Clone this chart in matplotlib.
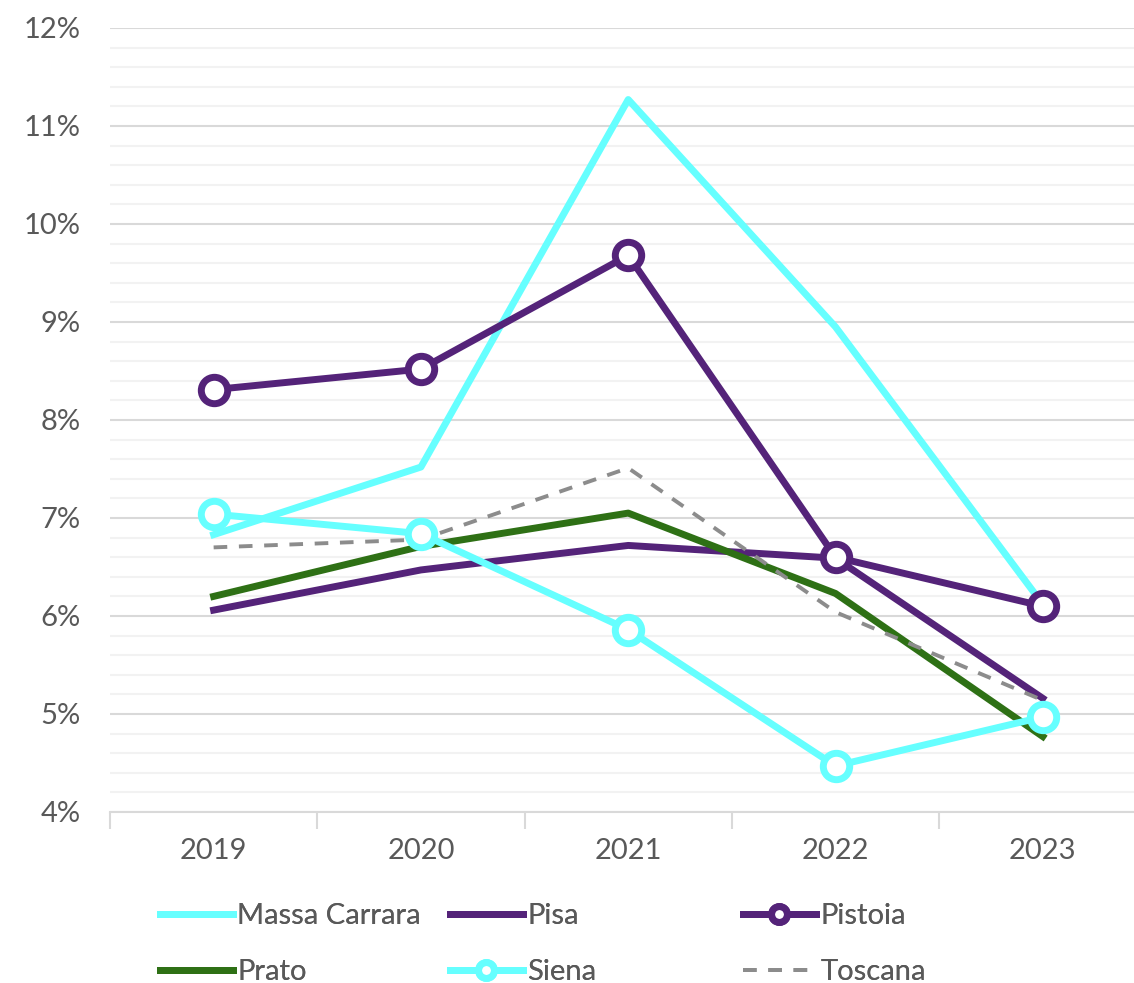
import matplotlib.pyplot as plt
from matplotlib.ticker import MultipleLocator, FuncFormatter

plt.rcParams['font.family'] = ['Lato', 'DejaVu Sans']

years = ['2019', '2020', '2021', '2022', '2023']
massa_carrara = [6.83, 7.52, 11.27, 8.95, 6.12]
pisa = [6.06, 6.47, 6.72, 6.59, 5.16]
pistoia = [8.31, 8.52, 9.68, 6.60, 6.10]
prato = [6.20, 6.71, 7.05, 6.23, 4.77]
siena = [7.04, 6.84, 5.86, 4.47, 4.97]
toscana = [6.70, 6.78, 7.51, 6.04, 5.14]

cyan = '#66FFFF'
purple = '#542379'
green = '#2E7015'
grey_text = '#595959'
fs = 21

fig = plt.figure(figsize=(11.34, 9.83), dpi=100)
ax = fig.add_axes([110 / 1134, 1 - 812 / 983, 1 - 110 / 1134, (812 - 28) / 983])

x = range(len(years))
lw = 5
l_mc, = ax.plot(x, massa_carrara, color=cyan, lw=lw, label='Massa Carrara', zorder=3)
l_pisa, = ax.plot(x, pisa, color=purple, lw=lw, label='Pisa', zorder=3)
l_pist, = ax.plot(x, pistoia, color=purple, lw=lw, marker='o', ms=19, mfc='white',
                  mec=purple, mew=5, label='Pistoia', zorder=4)
l_prato, = ax.plot(x, prato, color=green, lw=lw, label='Prato', zorder=3)
l_siena, = ax.plot(x, siena, color=cyan, lw=lw, marker='o', ms=19, mfc='white',
                   mec=cyan, mew=5, label='Siena', zorder=4)
l_tosc, = ax.plot(x, toscana, color='#8C8C8C', lw=2.8, ls=(0, (3.5, 3)), label='Toscana', zorder=3)

ax.set_xlim(-0.5, 4.44)
ax.set_ylim(4, 12)
ax.yaxis.set_major_locator(MultipleLocator(1))
ax.yaxis.set_minor_locator(MultipleLocator(0.2))
ax.yaxis.set_major_formatter(FuncFormatter(lambda v, p: f'{v:.0f}%'))
ax.grid(axis='y', which='major', color='#D9D9D9', lw=1.5)
ax.grid(axis='y', which='minor', color='#F2F2F2', lw=1.5)
ax.set_axisbelow(True)

ax.set_xticks(list(x))
ax.set_xticklabels(years)
ax.set_xticks([i - 0.5 for i in range(len(years))], minor=True)
ax.tick_params(axis='x', which='major', length=0, pad=19, labelsize=fs, labelcolor=grey_text)
ax.tick_params(axis='x', which='minor', length=12, color='#D9D9D9', width=1.5)
ax.tick_params(axis='y', which='both', length=0, pad=21, labelsize=fs, labelcolor=grey_text)

for s in ['top', 'right', 'left']:
    ax.spines[s].set_visible(False)
ax.spines['bottom'].set_color('#D9D9D9')
ax.spines['bottom'].set_linewidth(1.5)

# legend laid out as three fixed-width columns, filled row by row
columns = [[l_mc, l_prato], [l_pisa, l_siena], [l_pist, l_tosc]]
col_x = [160, 450, 743]
for handles, cx in zip(columns, col_x):
    leg = fig.legend(handles=handles, loc='upper left', bbox_to_anchor=(cx / 1134, 1 - 903 / 983),
                     frameon=False, fontsize=fs, handlelength=2.5, handletextpad=0.15,
                     labelspacing=1.02, markerscale=0.6, borderaxespad=0, borderpad=0)
    for t in leg.get_texts():
        t.set_color(grey_text)
    fig.add_artist(leg)

fig.savefig('out.png', dpi=100)
